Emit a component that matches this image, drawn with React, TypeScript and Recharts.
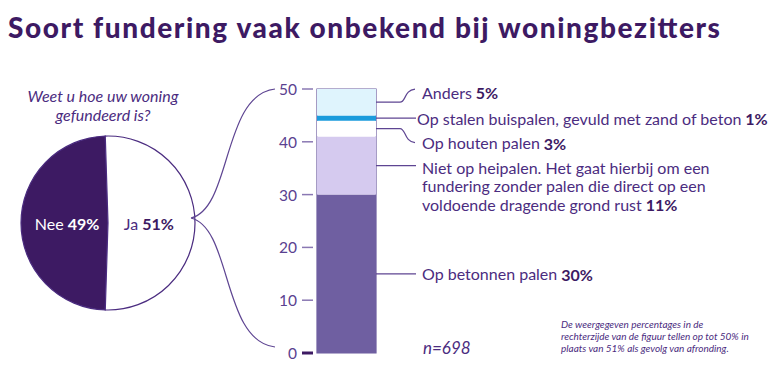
import { Bar, BarChart, Cell, LabelList, Pie, PieChart, ReferenceArea, XAxis, YAxis } from "recharts";

const pieNames = ["Nee", "Ja"];
const pieValues = [49, 51];

const seriesKeys = ["beton", "niet", "houten", "stalen", "anders"];
const seriesValues = [30, 11, 3, 1, 5];
const seriesLabels = [
  ["Op betonnen palen"],
  [
    "Niet op heipalen. Het gaat hierbij om een",
    "fundering zonder palen die direct op een",
    "voldoende dragende grond rust",
  ],
  ["Op houten palen"],
  ["Op stalen buispalen, gevuld met zand of beton"],
  ["Anders"],
];
const yTicks = [0, 10, 20, 30, 40, 50];

const DARK = "#3d1a63";
const TEXT = "#4b2c80";
const LINE = "#5e4592";
const FONT = "Lato, 'Open Sans', sans-serif";

const fills = ["#6f5fa1", "#d5caef", "#ffffff", "#1a9bdc", "#dff4fd"];
// connector style per segment: 0 straight, -1 curl up, 1 curl down
const connectors = [0, 0, 1, 0, -1];
const labelDx = [46, 46, 46, 41, 46];

const pieData = pieNames.map((name, i) => ({ name, value: pieValues[i] }));
const barRow: Record<string, number | string> = { name: "fundering" };
seriesKeys.forEach((k, i) => (barRow[k] = seriesValues[i]));
const barData = [barRow];

function YTick(props: any) {
  const { x, y, payload } = props;
  const zero = payload.value === 0;
  return (
    <g>
      <line
        x1={x - 15}
        x2={x - 4}
        y1={y}
        y2={y}
        stroke={zero ? DARK : "#8a78b3"}
        strokeWidth={zero ? 3 : 1.5}
      />
      <text x={x - 20} y={y} textAnchor="end" dominantBaseline="central" fontSize={15.5} fill="#5a4190" fontFamily={FONT}>
        {payload.value}
      </text>
    </g>
  );
}

function SegmentLabel(props: any) {
  const { x, y, width, height, s } = props;
  const x0 = x + width;
  const yMid = y + height / 2;
  const kind = connectors[s];
  let path = `M ${x0} ${yMid} H ${x0 + 40}`;
  let ty = yMid;
  if (kind === -1) {
    path = `M ${x0} ${yMid} H ${x0 + 24} C ${x0 + 30} ${yMid}, ${x0 + 28} ${yMid - 12}, ${x0 + 39} ${yMid - 13}`;
    ty = yMid - 10;
  } else if (kind === 1) {
    path = `M ${x0} ${yMid} H ${x0 + 24} C ${x0 + 30} ${yMid}, ${x0 + 28} ${yMid + 13}, ${x0 + 39} ${yMid + 14}`;
    ty = yMid + 14;
  } else if (seriesLabels[s].length > 1) {
    ty = yMid + 2;
  }
  const lines = seriesLabels[s];
  return (
    <g>
      <path d={path} fill="none" stroke={LINE} strokeWidth={1.2} />
      {lines.map((ln, i) => (
        <text
          key={i}
          x={x0 + labelDx[s]}
          y={ty + i * 18.3}
          dominantBaseline="central"
          fontSize={16}
          fill={TEXT}
          fontFamily={FONT}
        >
          {ln}
          {i === lines.length - 1 && (
            <tspan fontWeight={700} fill={DARK}>
              {" "}
              {seriesValues[s]}%
            </tspan>
          )}
        </text>
      ))}
    </g>
  );
}

function PieLabel(props: any) {
  const { cx, cy, midAngle, outerRadius, index } = props;
  const r = outerRadius * 0.47;
  const RAD = Math.PI / 180;
  const lx = cx + r * Math.cos(-midAngle * RAD);
  return (
    <text
      x={lx}
      y={cy}
      textAnchor="middle"
      dominantBaseline="central"
      fontSize={16}
      fontFamily={FONT}
      fill={index === 0 ? "#ffffff" : TEXT}
    >
      {pieNames[index]}{" "}
      <tspan fontWeight={700} fill={index === 0 ? "#ffffff" : DARK}>
        {pieValues[index]}%
      </tspan>
    </text>
  );
}

export default function App() {
  return (
    <div style={{ position: "absolute", left: 0, top: 0, width: 780, height: 383, background: "#fff" }}>
      <div style={{ position: "absolute", left: 0, top: 0 }}>
        <BarChart
          width={780}
          height={383}
          data={barData}
          margin={{ top: 89, right: 404, bottom: 30, left: 0 }}
          barCategoryGap={0}
        >
          <XAxis dataKey="name" hide />
          <YAxis
            width={317}
            domain={[0, 50]}
            ticks={yTicks}
            axisLine={false}
            tickLine={false}
            tickSize={0}
            tickMargin={0}
            tick={<YTick />}
          />
          {seriesKeys.map((k, i) => (
            <Bar key={k} dataKey={k} stackId="a" fill={fills[i]} isAnimationActive={false}>
              <LabelList dataKey={k} content={(p: any) => <SegmentLabel {...p} s={i} />} />
            </Bar>
          ))}
          <ReferenceArea y1={0} y2={50} fill="none" stroke="#6b5a9e" strokeWidth={1.2} ifOverflow="visible" />
        </BarChart>
      </div>
      <div style={{ position: "absolute", left: 0, top: 0 }}>
        <PieChart width={210} height={383}>
          <Pie
            data={pieData}
            dataKey="value"
            cx={103}
            cy={218}
            outerRadius={87}
            startAngle={91.8}
            endAngle={451.8}
            stroke="#4b2c80"
            strokeWidth={1.2}
            label={PieLabel}
            labelLine={false}
            isAnimationActive={false}
          >
            {pieData.map((d, i) => (
              <Cell key={d.name} fill={i === 0 ? DARK : "#ffffff"} />
            ))}
          </Pie>
        </PieChart>
      </div>
      <svg
        width={780}
        height={383}
        style={{ position: "absolute", left: 0, top: 0, pointerEvents: "none" }}
        fontFamily={FONT}
      >
        <text
          x={8}
          y={27}
          dominantBaseline="central"
          fontSize={28}
          fontWeight={900}
          fill={DARK}
          textLength={712}
          lengthAdjust="spacing"
        >
          Soort fundering vaak onbekend bij woningbezitters
        </text>
        <text x={103} y={95.5} textAnchor="middle" dominantBaseline="central" fontSize={16} fontStyle="italic" fill={TEXT}>
          Weet u hoe uw woning
        </text>
        <text x={103} y={114} textAnchor="middle" dominantBaseline="central" fontSize={16} fontStyle="italic" fill={TEXT}>
          gefundeerd is?
        </text>
        <path d="M 191 218 C 232 208, 222 95, 275 89" fill="none" stroke={LINE} strokeWidth={1.2} />
        <path d="M 191 218 C 232 228, 222 341, 275 347" fill="none" stroke={LINE} strokeWidth={1.2} />
        <text x={423} y={347} dominantBaseline="central" fontSize={17} fontStyle="italic" fill={TEXT}>
          n=698
        </text>
        <g fontSize={10} fontStyle="italic" fill={TEXT}>
          <text x={561} y={324} dominantBaseline="central">De weergegeven percentages in de</text>
          <text x={561} y={336} dominantBaseline="central">rechterzijde van de figuur tellen op tot 50% in</text>
          <text x={561} y={348} dominantBaseline="central">plaats van 51% als gevolg van afronding.</text>
        </g>
      </svg>
    </div>
  );
}
